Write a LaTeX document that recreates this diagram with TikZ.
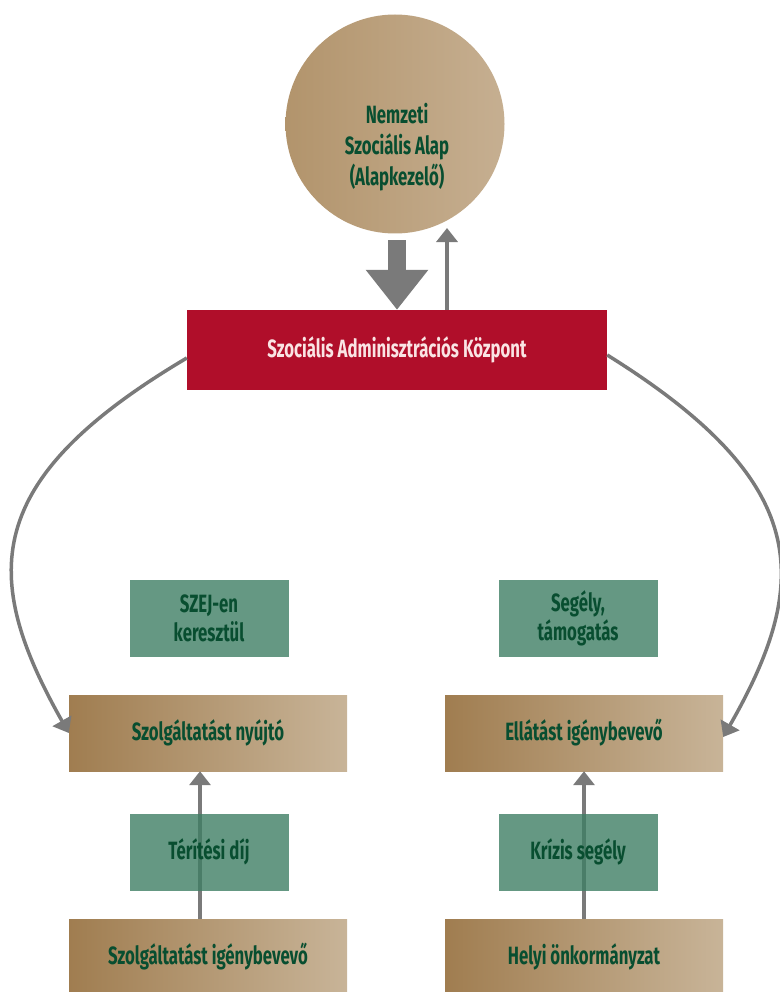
\documentclass[tikz,border=0pt]{standalone}
\usepackage{fontspec}
\setmainfont{Fira Sans}[FakeStretch=0.67,UprightFont=* Bold,BoldFont=* Bold]
\usetikzlibrary{arrows.meta,calc}
\definecolor{tanL}{RGB}{160,125,80}
\definecolor{tanR}{RGB}{200,180,152}
\definecolor{circL}{RGB}{178,148,108}
\definecolor{circR}{RGB}{198,175,145}
\definecolor{boxgreen}{RGB}{63,126,100}
\definecolor{txtgreen}{RGB}{8,78,48}
\definecolor{redbox}{RGB}{176,14,42}
\definecolor{redtxt}{RGB}{250,228,228}
\definecolor{arrgray}{RGB}{122,122,122}
\tikzset{
  lbl/.style={font=\fontsize{25}{29}\selectfont},
  tanbox/.style={rectangle, minimum width=278pt, minimum height=76pt, left color=tanL, right color=tanR, text=txtgreen, lbl, inner sep=0pt, align=center},
  greenbox/.style={rectangle, minimum width=159pt, minimum height=77pt, fill=boxgreen, fill opacity=0.8, text opacity=1, text=txtgreen, lbl, inner sep=0pt, align=center},
  thinarrow/.style={draw=arrgray, line width=3.5pt, -{Triangle[length=14pt,width=21pt]}},
}
\begin{document}
\begin{tikzpicture}[x=1pt,y=-1pt]
\useasboundingbox (0,0) rectangle (779,992);
% circle
\node[circle, minimum size=219pt, inner sep=0pt, left color=circL, right color=circR] (nsa) at (395,124) {};
\node[text=txtgreen, align=center, font=\fontsize{25}{31}\selectfont] (nsatxt) at (397,147) {Nemzeti\\Szociális Alap\\(Alapkezelő)};
% red box
\node[rectangle, minimum width=420pt, minimum height=80pt, fill=redbox, text=redtxt, lbl, inner sep=0pt] (sak) at (397,350) {Szociális Adminisztrációs Központ};
% tan boxes
\node[tanbox] (nyujto) at (208,733) {Szolgáltatást nyújtó};
\node[tanbox] (ellat) at (584,733) {Ellátást igénybevevő};
\node[tanbox] (igeny) at (208,957) {Szolgáltatást igénybevevő};
\node[tanbox] (helyi) at (584,957) {Helyi önkormányzat};
% vertical arrows (behind green boxes)
\draw[thinarrow] (igeny.north -| 200,0) -- (nyujto.south -| 200,0);
\draw[thinarrow] (helyi.north) -- (ellat.south);
% green boxes
\node[greenbox] (szej) at (209,618) {SZEJ-en\\keresztül};
\node[greenbox] (segely) at (578,618) {Segély,\\támogatás};
\node[greenbox] (terites) at (209,852) {Térítési díj};
\node[greenbox] (krizis) at (578,852) {Krízis segély};
% fat arrow
\coordinate (fatTop) at (397,240);
\draw[draw=arrgray, line width=18pt, -{Triangle[length=40pt,width=60pt]}] (fatTop) -- (sak.north);
% thin up arrow
\coordinate (thinTop) at (447,228);
\draw[thinarrow] (sak.north -| thinTop) -- (thinTop);
% curves
\draw[thinarrow] (sak.west |- 0,358) .. controls (-19,480) and (-20,576) .. (nyujto.west);
\draw[thinarrow] (sak.east |- 0,355) .. controls (811,482) and (813,580) .. (ellat.east |- 0,737);
\end{tikzpicture}
\end{document}
